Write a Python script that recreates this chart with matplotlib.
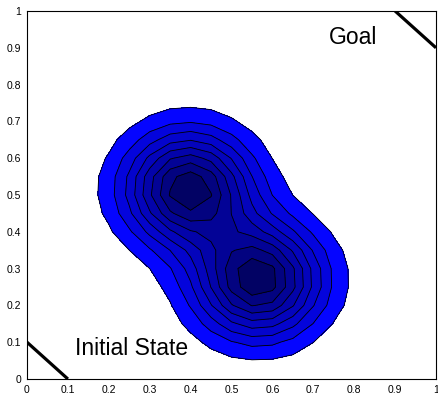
import matplotlib
matplotlib.use('Agg')
import matplotlib.pyplot as plt
import numpy as np

plt.rcParams['font.family'] = ['Liberation Sans', 'DejaVu Sans']

# two bumps of the distribution
centers_x = [0.395, 0.565]
centers_y = [0.517, 0.27]
sigma = 0.104
# contour levels and band colours (outer -> peak)
levels = [0.112, 0.225, 0.337, 0.449, 0.561, 0.674, 0.786, 0.898, 1.1]
band_blue = [255, 220, 204, 188, 170, 150, 128, 100, 50]
ticks = [0, 0.1, 0.2, 0.3, 0.4, 0.5, 0.6, 0.7, 0.8, 0.9, 1]
tick_labels = ['0', '0.1', '0.2', '0.3', '0.4', '0.5', '0.6', '0.7', '0.8', '0.9', '1']

# coarse grid like the original
g = np.linspace(0, 1, 21)
X, Y = np.meshgrid(g, g)
Z = np.zeros_like(X)
for cx, cy in zip(centers_x, centers_y):
    Z += np.exp(-((X - cx) ** 2 + (Y - cy) ** 2) / (2 * sigma ** 2))

fig = plt.figure(figsize=(4.38, 3.96), dpi=100)
ax = fig.add_axes([27 / 438, 17 / 396, 409 / 438, 368 / 396])

cols = [(b * 0.02 / 255, b * 0.02 / 255, b / 255) for b in band_blue]
ax.contourf(X, Y, Z, levels=levels, colors=cols)
ax.contour(X, Y, Z, levels=levels[:-1], colors='k', linewidths=0.6)

# start and goal boundaries
ax.plot([0, 0.1], [0.1, 0], color='k', lw=2.3, solid_capstyle='butt')
ax.plot([0.9, 1], [1, 0.9], color='k', lw=2.3, solid_capstyle='butt')
ax.text(0.738, 0.927, 'Goal', fontsize=16.5, va='center', ha='left')
ax.text(0.117, 0.084, 'Initial State', fontsize=16.5, va='center', ha='left')

ax.set_xlim(0, 1)
ax.set_ylim(0, 1)
ax.set_xticks(ticks)
ax.set_xticklabels(tick_labels)
ax.set_yticks(ticks)
ax.set_yticklabels(tick_labels)
ax.tick_params(length=0, labelsize=7.5, pad=4)
for s in ax.spines.values():
    s.set_linewidth(0.8)

fig.savefig('out.png', dpi=100)
